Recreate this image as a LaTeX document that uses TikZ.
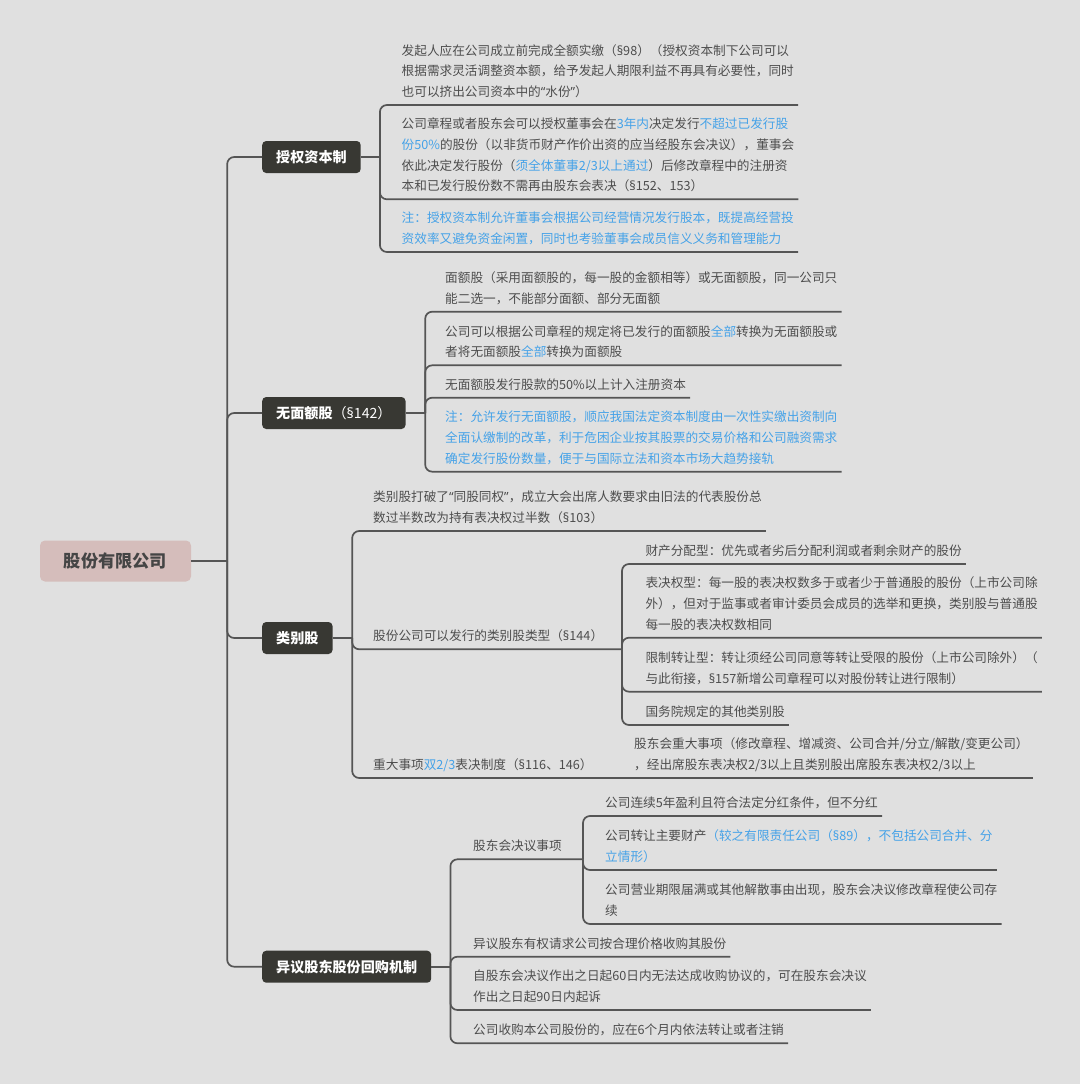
\documentclass[tikz,border=0pt]{standalone}
\usepackage{fontspec}
\setmainfont{Noto Sans CJK SC}
\newfontfamily\latinfont{Noto Sans}
\usepackage{tikz}

\newcommand\para{{\latinfont §}}
\newcommand\oq{{\latinfont “}}
\newcommand\cq{{\latinfont ”}}

\definecolor{bg}{HTML}{E0E0E0}
\definecolor{ln}{HTML}{555555}
\definecolor{txt}{HTML}{4D4D4D}
\definecolor{hl}{HTML}{45A2E8}
\definecolor{topicfill}{HTML}{383833}
\definecolor{rootfill}{HTML}{D5BDBB}

\tikzset{
  rootbox/.style={fill=rootfill, rounded corners=5pt, minimum width=151pt, minimum height=41pt, text=txt!90!black, font=\fontsize{17.2}{20}\selectfont\bfseries},
  topic/.style={anchor=west, fill=topicfill, rounded corners=4pt, minimum height=32pt, inner xsep=14pt, text=white, font=\fontsize{14.1}{17}\selectfont\bfseries},
  leaf/.style={anchor=south west, align=left, inner xsep=4pt, inner ysep=2pt, text=txt, font=\fontsize{12.65}{20.7}\selectfont, execute at begin node=\strut, execute at end node=\strut},
  note/.style={leaf, text=hl},
  conn/.style={draw=ln, line width=1.7pt, rounded corners=7pt},
}

\begin{document}
\begin{tikzpicture}[x=1pt,y=-1pt]
\useasboundingbox[fill=bg] (0,0) rectangle (1080,1084);

\node[rootbox] (gf) at (115.5,561) {股份有限公司};
\node[topic] (sq) at (262,157) {授权资本制};
\node[topic] (wme) at (262,413) {无面额股{\mdseries（\para142）}};
\node[topic] (lbg) at (262,638) {类别股};
\node[topic] (yy) at (262,966.7) {异议股东股份回购机制};

\node[leaf] (sq1) at (397.5,105) {发起人应在公司成立前完成全额实缴（\para98）（授权资本制下公司可以\\根据需求灵活调整资本额，给予发起人期限利益不再具有必要性，同时\\也可以挤出公司资本中的\oq 水份\cq）};
\node[leaf] (sq2) at (397.5,199.3) {公司章程或者股东会可以授权董事会在\textcolor{hl}{3年内}决定发行\textcolor{hl}{不超过已发行股}\\\textcolor{hl}{份50\%}的股份（以非货币财产作价出资的应当经股东会决议），董事会\\依此决定发行股份（\textcolor{hl}{须全体董事2/3以上通过}）后修改章程中的注册资\\本和已发行股份数不需再由股东会表决（\para152、153）};
\node[note] (sq3) at (397.5,252) {注：授权资本制允许董事会根据公司经营情况发行股本，既提高经营投\\资效率又避免资金闲置，同时也考验董事会成员信义义务和管理能力};

\node[leaf] (wme1) at (441,311.7) {面额股（采用面额股的，每一股的金额相等）或无面额股，同一公司只\\能二选一，不能部分面额、部分无面额};
\node[leaf] (wme2) at (441,365.3) {公司可以根据公司章程的规定将已发行的面额股\textcolor{hl}{全部}转换为无面额股或\\者将无面额股\textcolor{hl}{全部}转换为面额股};
\node[leaf] (wme3) at (441,397.7) {无面额股发行股款的50\%以上计入注册资本};
\node[note] (wme4) at (441,471.7) {注：允许发行无面额股，顺应我国法定资本制度由一次性实缴出资制向\\全面认缴制的改革，利于危困企业按其股票的交易价格和公司融资需求\\确定发行股份数量，便于与国际立法和资本市场大趋势接轨};

\node[leaf] (lbg1) at (369,531) {类别股打破了\oq 同股同权\cq，成立大会出席人数要求由旧法的代表股份总\\数过半数改为持有表决权过半数（\para103）};
\node[leaf] (lbg2) at (369,649.3) {股份公司可以发行的类别股类型（\para144）};
\node[leaf] (lbg3) at (369,778) {重大事项\textcolor{hl}{双2/3}表决制度（\para116、146）};
\node[leaf] (lx1) at (641.3,564) {财产分配型：优先或者劣后分配利润或者剩余财产的股份};
\node[leaf] (lx2) at (641.3,637.7) {表决权型：每一股的表决权数多于或者少于普通股的股份（上市公司除\\外），但对于监事或者审计委员会成员的选举和更换，类别股与普通股\\每一股的表决权数相同};
\node[leaf] (lx3) at (641.3,691.7) {限制转让型：转让须经公司同意等转让受限的股份（上市公司除外）（\\与此衔接，\para157新增公司章程可以对股份转让进行限制）};
\node[leaf] (lx4) at (641.3,725) {国务院规定的其他类别股};
\node[leaf] (ly1) at (630,778) {股东会重大事项（修改章程、增减资、公司合并/分立/解散/变更公司）\\，经出席股东表决权2/3以上且类别股出席股东表决权2/3以上};

\node[leaf] (yy1) at (469,859.3) {股东会决议事项};
\node[leaf] (yy2) at (469,956.7) {异议股东有权请求公司按合理价格收购其股份};
\node[leaf] (yy3) at (469,1010) {自股东会决议作出之日起60日内无法达成收购协议的，可在股东会决议\\作出之日起90日内起诉};
\node[leaf] (yy4) at (469,1043.3) {公司收购本公司股份的，应在6个月内依法转让或者注销};
\node[leaf] (yx1) at (601,816) {公司连续5年盈利且符合法定分红条件，但不分红};
\node[leaf] (yx2) at (601,870) {公司转让主要财产\textcolor{hl}{（较之有限责任公司（\para89），不包括公司合并、分}\\\textcolor{hl}{立情形）}};
\node[leaf] (yx3) at (601,924) {公司营业期限届满或其他解散事由出现，股东会决议修改章程使公司存\\续};

\draw[conn] (gf.east) -- ++(36,0) coordinate (s0);
\draw[conn] (s0) |- (sq.west);
\draw[conn] (s0) |- (wme.west);
\draw[conn] (s0) |- (lbg.west);
\draw[conn] (s0) |- (yy.west);

\draw[conn] (sq.east) -- ++(19,0) coordinate (s1);
\draw[conn] (s1) |- (sq1.south east);
\draw[conn] (s1) |- (sq2.south east);
\draw[conn] (s1) |- (sq3.south east);

\draw[conn] (wme.east) -- ++(19.5,0) coordinate (s2);
\draw[conn] (s2) |- (wme1.south east);
\draw[conn] (s2) |- (wme2.south east);
\draw[conn] (s2) |- (wme3.south east);
\draw[conn] (s2) |- (wme4.south east);

\draw[conn] (lbg.east) -- ++(19.5,0) coordinate (s3);
\draw[conn] (s3) |- (lbg1.south east);
\draw[conn] (s3) |- (lbg2.south east) -- (622,649.3) coordinate (s32);
\draw[conn] (s3) |- (lbg3.south east) -- (ly1.south east);
\draw[conn] (s32) |- (lx1.south east);
\draw[conn] (s32) |- (lx2.south east);
\draw[conn] (s32) |- (lx3.south east);
\draw[conn] (s32) |- (lx4.south east);

\draw[conn] (yy.east) -- ++(19,0) coordinate (s4);
\draw[conn] (s4) |- (yy1.south east) -- (583,859.3) coordinate (s41);
\draw[conn] (s4) |- (yy2.south east);
\draw[conn] (s4) |- (yy3.south east);
\draw[conn] (s4) |- (yy4.south east);
\draw[conn] (s41) |- (yx1.south east);
\draw[conn] (s41) |- (yx2.south east);
\draw[conn] (s41) |- (yx3.south east);
\end{tikzpicture}
\end{document}
